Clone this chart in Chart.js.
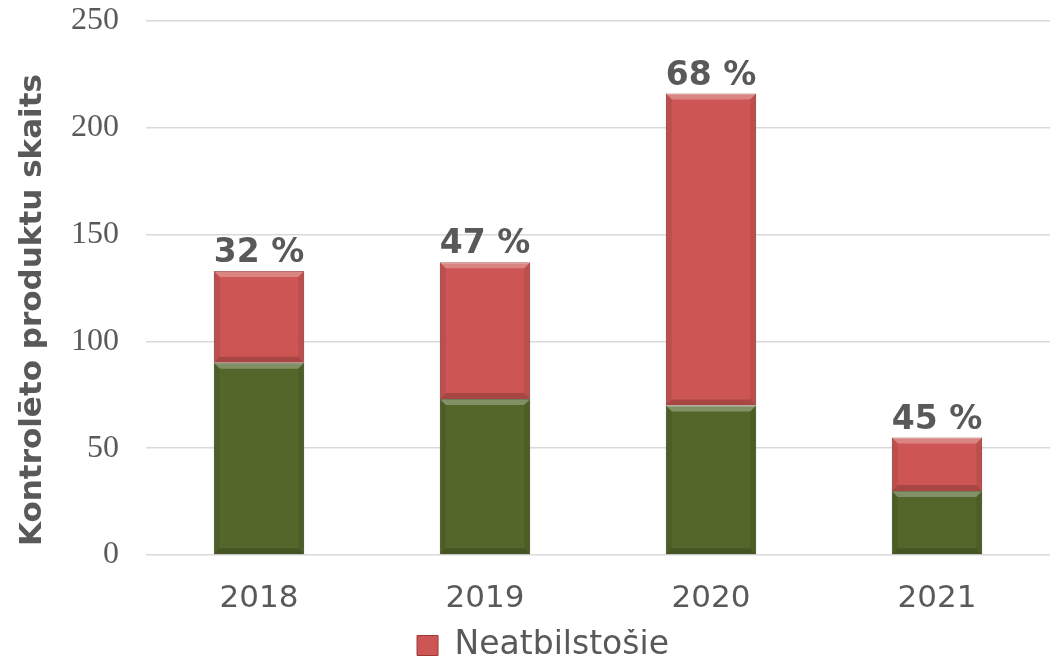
<!DOCTYPE html>
<html>
<head>
<meta charset="utf-8">
<script src="https://cdn.jsdelivr.net/npm/chart.js@4"></script>
<style>
  html, body { margin: 0; padding: 0; background: #fff; }
  #wrap { width: 1050px; height: 664px; }
</style>
</head>
<body>
<div id="wrap"><canvas id="chart" width="1050" height="664"></canvas></div>
<script>
// dati
const gadi = ['2018', '2019', '2020', '2021'];
const atbilstosie = [90, 73, 70, 30];
const neatbilstosie = [43, 64, 146, 25];
const procenti = ['32 %', '47 %', '68 %', '45 %'];
const assNosaukums = 'Kontrolēto produktu skaits';

// procentu etiķetes virs stabiņiem
const procentuPlugin = {
  id: 'procenti',
  afterDatasetsDraw(chart) {
    const ctx = chart.ctx;
    const meta = chart.getDatasetMeta(1);
    ctx.save();
    ctx.font = 'bold 33px "DejaVu Sans"';
    ctx.fillStyle = '#595959';
    ctx.textAlign = 'center';
    ctx.textBaseline = 'alphabetic';
    meta.data.forEach((bar, i) => {
      ctx.fillText(procenti[i], bar.x, bar.y - 9);
    });
    ctx.restore();
  }
};

// Y ass nosaukums (nedaudz zemāk par centru, kā oriģinālā)
const nosaukumsPlugin = {
  id: 'nosaukums',
  afterDraw(chart) {
    const ctx = chart.ctx;
    const a = chart.chartArea;
    ctx.save();
    ctx.translate(33, (a.top + a.bottom) / 2 + 22);
    ctx.rotate(-Math.PI / 2);
    ctx.font = 'bold 31px "DejaVu Sans"';
    ctx.fillStyle = '#595959';
    ctx.textAlign = 'center';
    ctx.textBaseline = 'middle';
    ctx.fillText(assNosaukums, 0, 0);
    ctx.restore();
  }
};

// leģendu nedaudz pa labi un uz leju
const legendaNobidePlugin = {
  id: 'legendaNobide',
  afterLayout(chart) {
    const lg = chart.legend;
    if (!lg) return;
    lg.left += 18; lg.right += 18;
    lg.top += 8; lg.bottom += 8;
  }
};

// vienkāršs reljefa efekts stabiņiem
const reljefsPlugin = {
  id: 'reljefs',
  afterDatasetsDraw(chart) {
    const ctx = chart.ctx;
    ctx.save();
    chart.data.datasets.forEach((ds, di) => {
      chart.getDatasetMeta(di).data.forEach(bar => {
        const l = bar.x - bar.width / 2, r = bar.x + bar.width / 2;
        const t = bar.y, b = bar.base;
        const e = 6;
        // augša gaišāka
        ctx.fillStyle = 'rgba(255,255,255,0.28)';
        ctx.beginPath();
        ctx.moveTo(l, t); ctx.lineTo(r, t); ctx.lineTo(r - e, t + e); ctx.lineTo(l + e, t + e);
        ctx.closePath(); ctx.fill();
        // apakša un sāni tumšāki
        ctx.fillStyle = 'rgba(0,0,0,0.18)';
        ctx.beginPath();
        ctx.moveTo(l, b); ctx.lineTo(r, b); ctx.lineTo(r - e, b - e); ctx.lineTo(l + e, b - e);
        ctx.closePath(); ctx.fill();
        ctx.fillStyle = 'rgba(0,0,0,0.08)';
        ctx.beginPath();
        ctx.moveTo(l, t); ctx.lineTo(l + e, t + e); ctx.lineTo(l + e, b - e); ctx.lineTo(l, b);
        ctx.closePath(); ctx.fill();
        ctx.beginPath();
        ctx.moveTo(r, t); ctx.lineTo(r - e, t + e); ctx.lineTo(r - e, b - e); ctx.lineTo(r, b);
        ctx.closePath(); ctx.fill();
      });
    });
    ctx.restore();
  }
};

const ctx = document.getElementById('chart').getContext('2d');
new Chart(ctx, {
  type: 'bar',
  data: {
    labels: gadi,
    datasets: [
      {
        label: 'Atbilstošie',
        data: atbilstosie,
        backgroundColor: '#53672A',
        borderColor: '#3A481C',
        borderWidth: 1,
        categoryPercentage: 1,
        barPercentage: 0.4
      },
      {
        label: 'Neatbilstošie',
        data: neatbilstosie,
        backgroundColor: '#CD5654',
        borderColor: '#9A3937',
        borderWidth: 1,
        categoryPercentage: 1,
        barPercentage: 0.4
      }
    ]
  },
  options: {
    responsive: false,
    animation: false,
    layout: { padding: { top: 21, right: 0, left: 0, bottom: 0 } },
    plugins: {
      tooltip: { enabled: false },
      legend: {
        position: 'bottom',
        labels: {
          filter: item => item.datasetIndex === 1,
          font: { family: '"DejaVu Sans"', size: 33 },
          color: '#595959',
          boxWidth: 21,
          boxHeight: 20,
          padding: 0
        }
      }
    },
    scales: {
      x: {
        stacked: true,
        grid: { display: false },
        border: { display: false },
        ticks: {
          font: { family: '"DejaVu Sans"', size: 31 },
          color: '#595959',
          padding: 17
        },
        afterFit: axis => { axis.height = 66; }
      },
      y: {
        stacked: true,
        min: 0,
        max: 250,
        ticks: {
          stepSize: 50,
          font: { family: '"Liberation Serif"', size: 32 },
          color: '#595959',
          padding: 27
        },
        grid: { color: '#D9D9D9', lineWidth: 1.5, drawTicks: false },
        border: { display: false },
        afterFit: axis => {
          axis.width = 146;
          axis.paddingTop = 0;
          axis.paddingBottom = 0;
        }
      }
    }
  },
  plugins: [legendaNobidePlugin, reljefsPlugin, procentuPlugin, nosaukumsPlugin]
});
</script>
</body>
</html>
